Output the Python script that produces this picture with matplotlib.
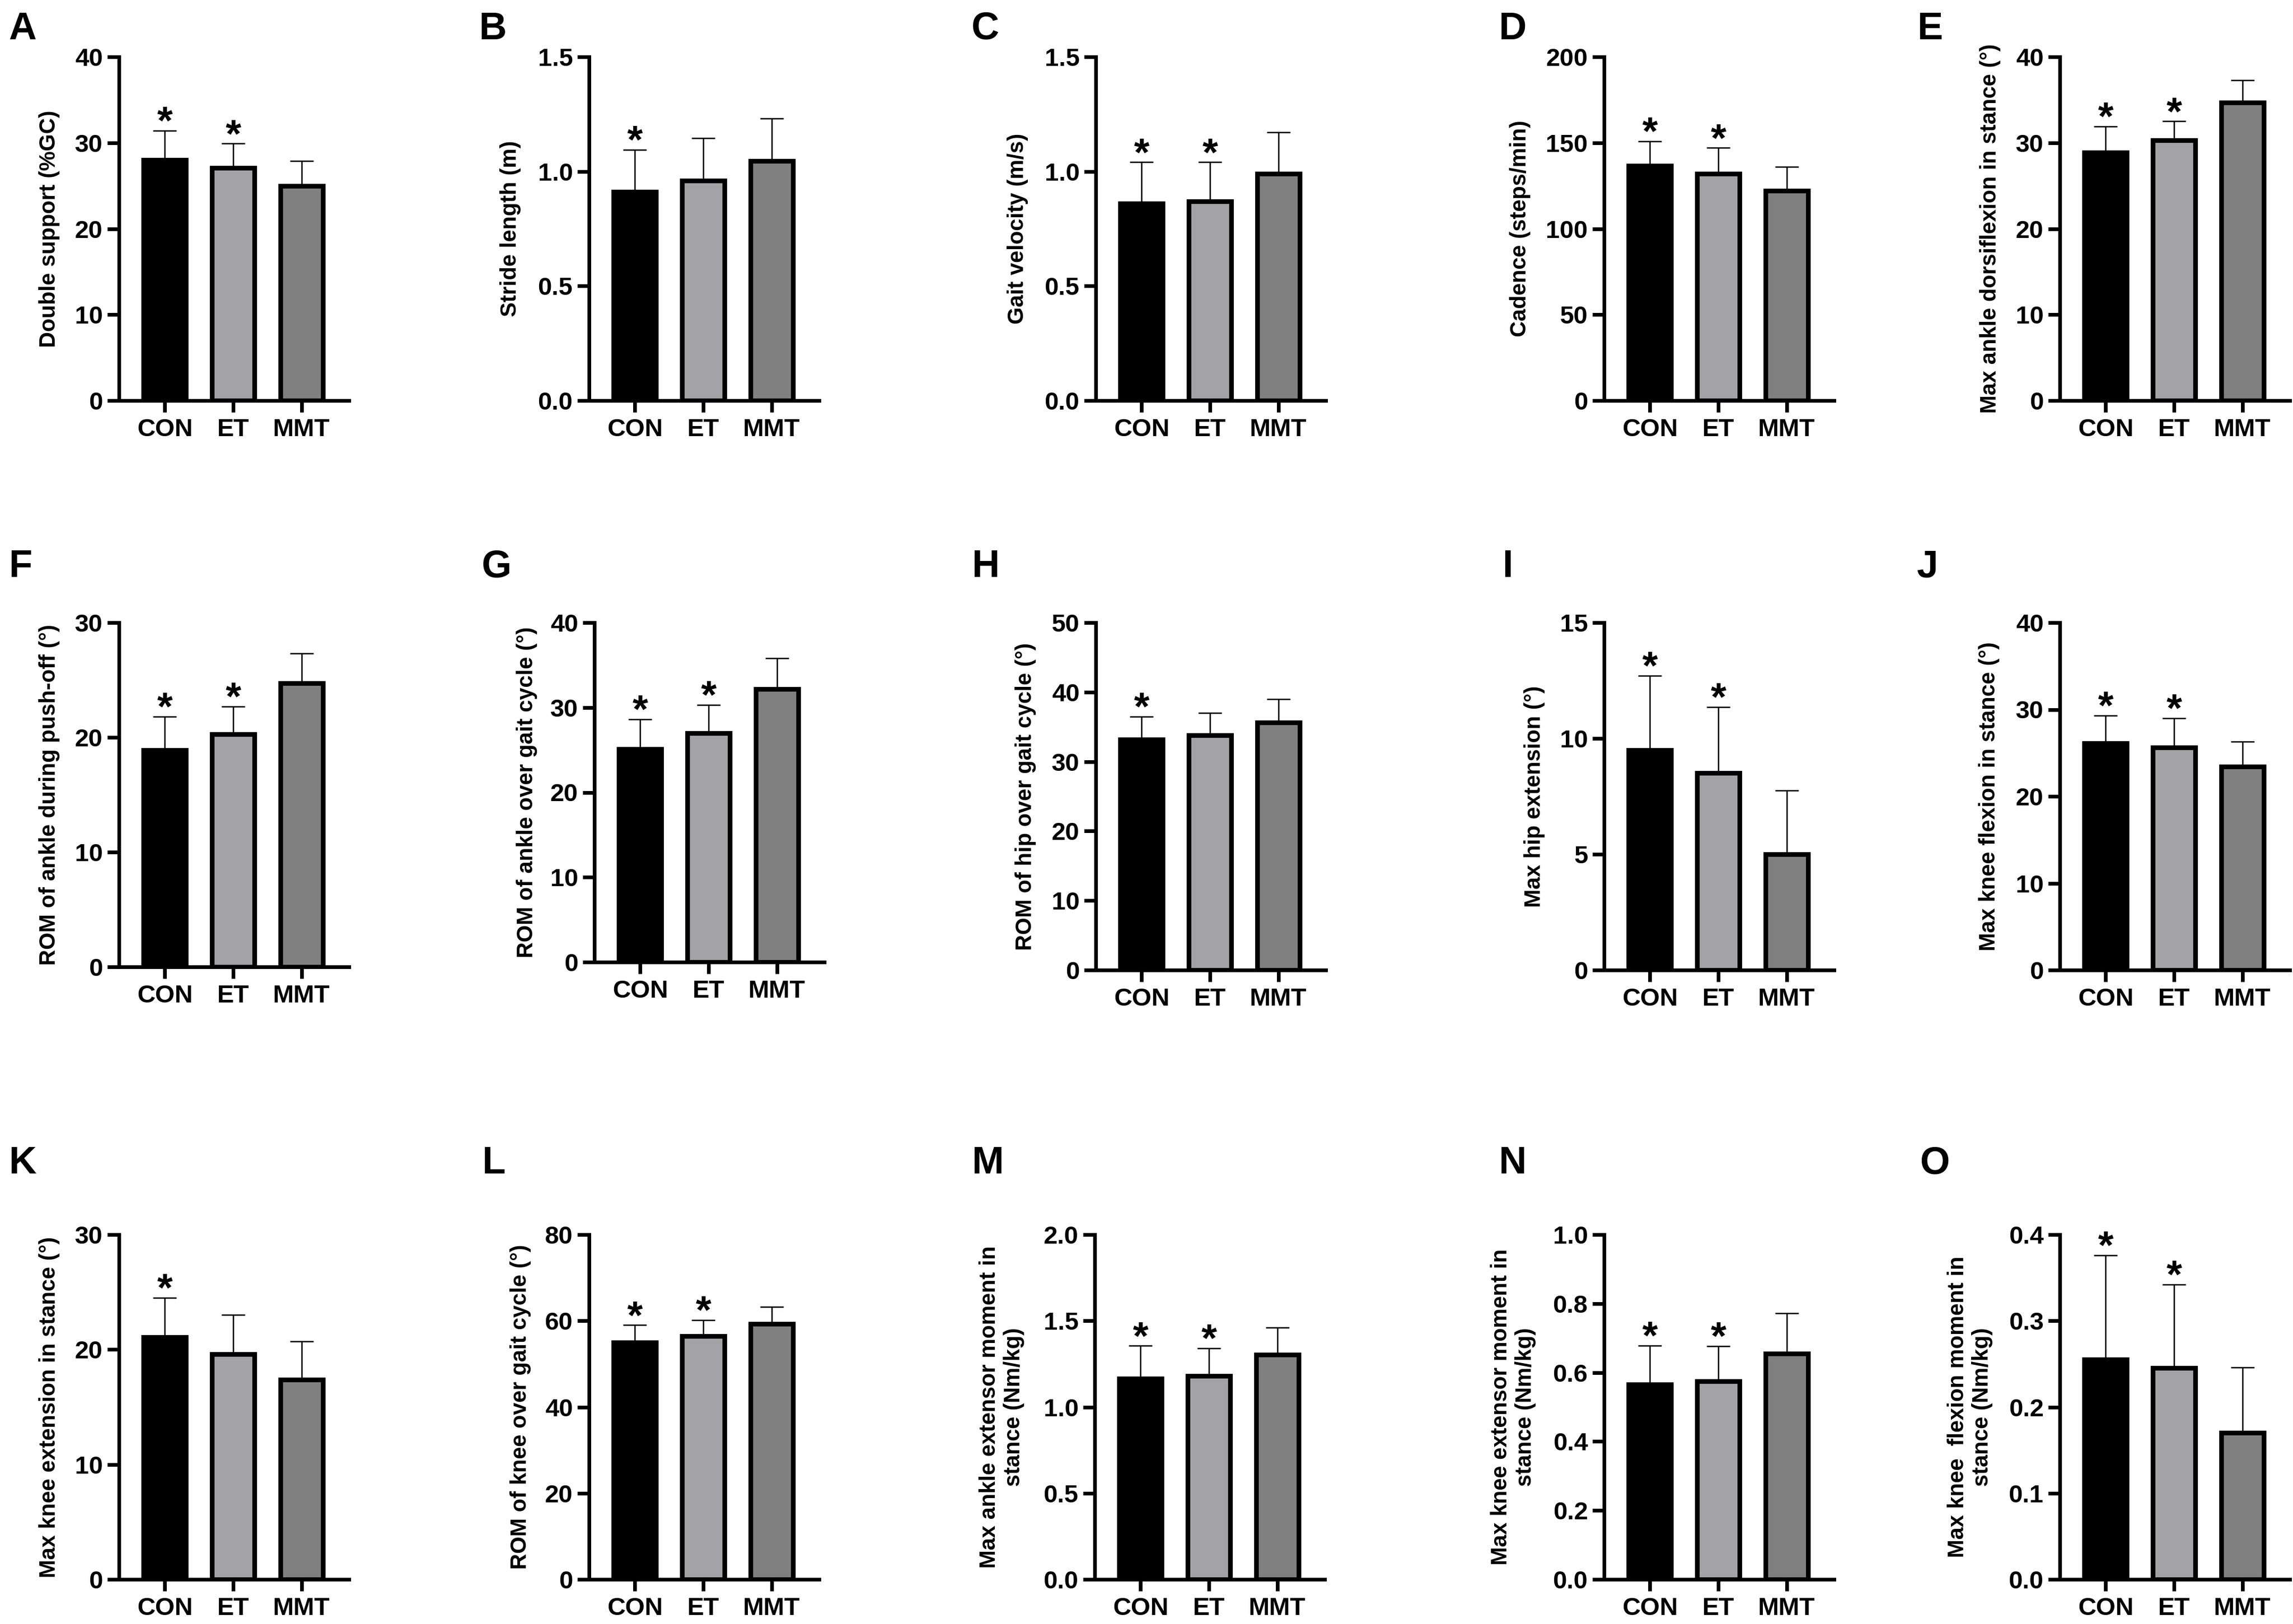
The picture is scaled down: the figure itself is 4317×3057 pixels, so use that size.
import matplotlib
matplotlib.use("Agg")
import matplotlib.pyplot as plt
import numpy as np

plt.rcParams['font.family'] = ['Liberation Sans', 'DejaVu Sans']
plt.rcParams['font.weight'] = 'bold'

W, H = 4317, 3057
DPI = 100

groups = ['CON', 'ET', 'MMT']
bar_colors = ['#000000', '#A2A2A7', '#808080']

panel_letters = ['A', 'B', 'C', 'D', 'E', 'F', 'G', 'H', 'I', 'J', 'K', 'L', 'M', 'N', 'O']

y_labels = [
    'Double support (%GC)',
    'Stride length (m)',
    'Gait velocity (m/s)',
    'Cadence (steps/min)',
    'Max ankle dorsiflexion in stance (°)',
    'ROM of ankle during push-off (°)',
    'ROM of ankle over gait cycle (°)',
    'ROM of hip over gait cycle (°)',
    'Max hip extension (°)',
    'Max knee flexion in stance (°)',
    'Max knee extension in stance (°)',
    'ROM of knee over gait cycle (°)',
    'Max ankle extensor moment in\nstance (Nm/kg)',
    'Max knee extensor moment in\nstance (Nm/kg)',
    'Max knee  flexion moment in\nstance (Nm/kg)',
]

y_max = [40, 1.5, 1.5, 200, 40, 30, 40, 50, 15, 40, 30, 80, 2.0, 1.0, 0.4]
y_step = [10, 0.5, 0.5, 50, 10, 10, 10, 10, 5, 10, 10, 20, 0.5, 0.2, 0.1]
y_decimals = [0, 1, 1, 0, 0, 0, 0, 0, 0, 0, 0, 0, 1, 1, 1]

means_A = [28.0, 27.1, 25.0]
sd_A = [3.4, 2.8, 2.9]
means_B = [0.91, 0.96, 1.045]
sd_B = [0.185, 0.185, 0.185]
means_C = [0.86, 0.87, 0.99]
sd_C = [0.18, 0.17, 0.18]
means_D = [136.5, 132.0, 122.0]
sd_D = [14.5, 15.0, 14.0]
means_E = [28.9, 30.3, 34.7]
sd_E = [3.0, 2.2, 2.6]
means_F = [18.9, 20.3, 24.7]
sd_F = [2.9, 2.4, 2.6]
means_G = [25.1, 27.0, 32.2]
sd_G = [3.5, 3.3, 3.6]
means_H = [33.2, 33.8, 35.6]
sd_H = [3.3, 3.2, 3.4]
means_I = [9.5, 8.5, 5.0]
sd_I = [3.2, 2.85, 2.75]
means_J = [26.1, 25.6, 23.4]
sd_J = [3.2, 3.4, 2.9]
means_K = [21.1, 19.6, 17.4]
sd_K = [3.4, 3.4, 3.3]
means_L = [55.0, 56.5, 59.3]
sd_L = [4.0, 3.7, 3.9]
means_M = [1.165, 1.18, 1.305]
sd_M = [0.19, 0.16, 0.155]
means_N = [0.565, 0.575, 0.655]
sd_N = [0.113, 0.101, 0.117]
means_O = [0.255, 0.245, 0.17]
sd_O = [0.121, 0.097, 0.076]

all_means = [means_A, means_B, means_C, means_D, means_E, means_F, means_G, means_H,
             means_I, means_J, means_K, means_L, means_M, means_N, means_O]
all_sd = [sd_A, sd_B, sd_C, sd_D, sd_E, sd_F, sd_G, sd_H,
          sd_I, sd_J, sd_K, sd_L, sd_M, sd_N, sd_O]

significant = [
    [1, 1, 0], [1, 0, 0], [1, 1, 0], [1, 1, 0], [1, 1, 0],
    [1, 1, 0], [1, 1, 0], [1, 0, 0], [1, 1, 0], [1, 1, 0],
    [1, 0, 0], [1, 1, 0], [1, 1, 0], [1, 1, 0], [1, 1, 0],
]

# layout (pixels): spine x, top y, bottom y
AX_W = 433
geom = [
    (224, 107, 754), (1109, 107, 754), (2063, 107, 754), (3020, 107, 754), (3878, 107, 754),
    (224, 1172, 1820), (1119, 1172, 1811), (2063, 1172, 1826), (3020, 1172, 1826), (3878, 1172, 1826),
    (224, 2324, 2973), (1109, 2324, 2973), (2061, 2324, 2973), (3020, 2324, 2973), (3878, 2324, 2973),
]
# y-label right edge offset from spine (pixels)
ylab_off = [-111, -128, -127, -138, -111, -111, -107, -112, -111, -113, -111, -109, -132, -128, -126]

letter_pos = [
    (16, 74), (901, 74), (1829, 74), (2821, 74), (3609, 74),
    (16, 1086), (907, 1086), (1829, 1086), (2828, 1086), (3609, 1086),
    (16, 2209), (907, 2209), (1829, 2209), (2821, 2209), (3615, 2209),
]

fig = plt.figure(figsize=(W / DPI, H / DPI), dpi=DPI)
fig.patch.set_facecolor('white')

x = np.arange(3)
for i in range(15):
    sx, ty, by = geom[i]
    ax = fig.add_axes([sx / W, 1 - by / H, AX_W / W, (by - ty) / H])
    m = all_means[i]
    s = all_sd[i]
    ax.errorbar(x, m, yerr=[np.zeros(3), s], fmt='none', ecolor='black',
                elinewidth=1.8, capsize=16, capthick=1.8, zorder=1)
    ax.bar(x, m, width=0.615, color=bar_colors, edgecolor='black',
           linewidth=6.3, zorder=2)
    for j in range(3):
        if significant[i][j]:
            ax.annotate('*', xy=(x[j], m[j] + s[j]), xytext=(0, -4),
                        textcoords='offset points', ha='center', va='baseline',
                        fontsize=54, fontweight='bold', annotation_clip=False)
    ax.set_xlim(-0.667, 2.69)
    ax.set_ylim(0, y_max[i])
    ticks = np.arange(0, y_max[i] + y_step[i] / 2, y_step[i])
    ax.set_yticks(ticks)
    fmt = '{:.%df}' % y_decimals[i]
    ax.set_yticklabels([fmt.format(t) for t in ticks])
    ax.set_xticks(x)
    ax.set_xticklabels(groups)
    for side in ['top', 'right']:
        ax.spines[side].set_visible(False)
    for side in ['left', 'bottom']:
        ax.spines[side].set_linewidth(5)
    ax.tick_params(axis='both', length=16, width=5, labelsize=34, pad=6)
    ax.tick_params(axis='x', pad=8)
    for lab in ax.get_xticklabels() + ax.get_yticklabels():
        lab.set_fontweight('bold')
    ax.set_ylabel(y_labels[i], fontsize=30, fontweight='bold', linespacing=1.2)
    ax.yaxis.set_label_coords(ylab_off[i] / AX_W, 0.5)
    ax.set_facecolor('none')

for i in range(15):
    lx, ly = letter_pos[i]
    fig.text(lx / W, 1 - ly / H, panel_letters[i], fontsize=52, fontweight='bold',
             ha='left', va='baseline')

fig.savefig('out.png', dpi=DPI, facecolor='white')
